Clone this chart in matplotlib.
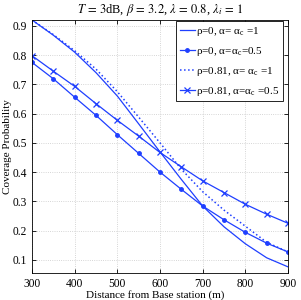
import matplotlib
matplotlib.use('Agg')
import matplotlib.pyplot as plt

plt.rcParams['font.family'] = ['Liberation Serif', 'DejaVu Serif']
plt.rcParams['mathtext.fontset'] = 'stix'

dist = [300, 350, 400, 450, 500, 550, 600, 650, 700, 750, 800, 850, 900]

p0_a1 = [0.92, 0.868, 0.81, 0.74, 0.66, 0.565, 0.469, 0.375, 0.284, 0.213, 0.155, 0.107, 0.076]
p0_a05 = [0.775, 0.719, 0.656, 0.594, 0.528, 0.464, 0.40, 0.341, 0.284, 0.237, 0.194, 0.157, 0.127]
p81_a1 = [0.92, 0.87, 0.815, 0.752, 0.675, 0.588, 0.50, 0.41, 0.333, 0.27, 0.215, 0.16, 0.127]
p81_a05 = [0.798, 0.745, 0.693, 0.634, 0.577, 0.523, 0.467, 0.418, 0.37, 0.33, 0.29, 0.256, 0.225]

labels = [r'ρ=0, α= α$_{\mathregular{c}}$ =1',
          r'ρ=0, α=α$_{\mathregular{c}}$=0.5',
          r'ρ=0.81, α= α$_{\mathregular{c}}$ =1',
          r'ρ=0.81, α=α$_{\mathregular{c}}$ =0.5']

col = '#1f3fff'

fig = plt.figure(figsize=(3.01, 3.0), dpi=100)
ax = fig.add_axes([32/301, 27/300, 256/301, 253/300])

ax.plot(dist, p0_a1, '-', color=col, lw=0.9, label=labels[0])
ax.plot(dist, p0_a05, '-', color=col, lw=0.9, marker='.', ms=5, label=labels[1])
ax.plot(dist, p81_a1, ':', color=col, lw=1.1, label=labels[2])
ax.plot(dist, p81_a05, '-', color=col, lw=0.9, marker='x', ms=4.5, mew=0.9, label=labels[3])

ax.set_xlim(300, 900)
ax.set_ylim(0.055, 0.92)
ax.set_xticks([300, 400, 500, 600, 700, 800, 900])
ax.set_yticks([0.1, 0.2, 0.3, 0.4, 0.5, 0.6, 0.7, 0.8, 0.9])
ax.tick_params(direction='in', top=True, right=True, labelsize=8.3, length=3, width=0.6)
ax.grid(True, ls=':', color='#c8c8c8', lw=0.6)
for s in ax.spines.values():
    s.set_linewidth(0.6)

ax.set_xlabel('Distance from Base station (m)', fontsize=8)
ax.xaxis.set_label_coords(0.483, -0.066)
ax.set_ylabel('Coverage Probability', fontsize=8)
ax.yaxis.set_label_coords(-0.077, 0.5)
ax.set_title(r'$T\,=\,3$dB, $\beta\,=\,3.2$, $\lambda\,=\,0.8$, $\lambda_i\,=\,1$', fontsize=9, pad=5)

leg = ax.legend(loc='upper right', bbox_to_anchor=((283-32)/256, (273-21)/253),
                fontsize=8, fancybox=False, framealpha=1,
                edgecolor='black', borderpad=0.35, handlelength=1.3, handletextpad=0.1,
                labelspacing=0.62, borderaxespad=0)
leg.get_frame().set_linewidth(0.6)

fig.savefig('out.png', dpi=100)
